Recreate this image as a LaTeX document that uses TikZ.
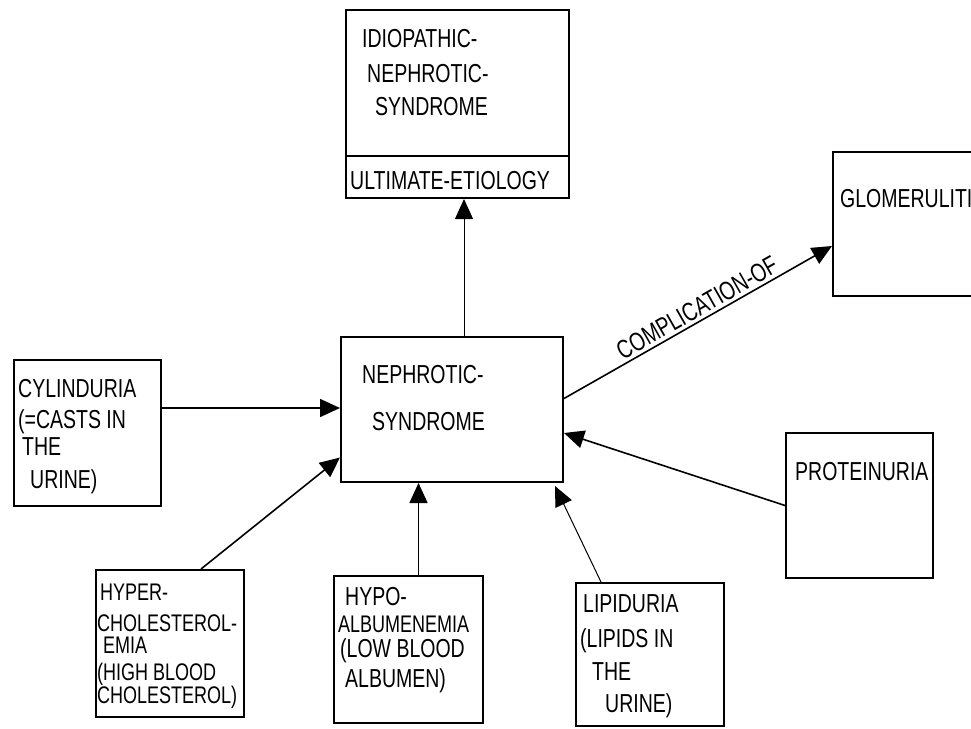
\documentclass[tikz,border=0pt]{standalone}
\usepackage{fontspec}
\newfontfamily\handfont[FakeStretch=0.75]{Liberation Sans}
\usetikzlibrary{arrows.meta}

\begin{document}
\begin{tikzpicture}[x=1pt, y=-1pt,
    box/.style={draw, line width=2pt, anchor=north west, inner sep=0pt},
    txt/.style={anchor=base west, inner sep=0pt, font=\handfont\fontsize{26}{30}\selectfont},
    smalltxt/.style={txt, font=\handfont\fontsize{24}{28}\selectfont},
    link/.style={line width=1.6pt, -{Triangle[length=20pt, width=18pt]}},
    thinlink/.style={line width=1pt, -{Triangle[length=20pt, width=18pt]}}]
  \clip (0,0) rectangle (971,728);

  % Upper boxes
  \node[box, minimum width=223pt, minimum height=146pt] (idio) at (345,9) {};
  \node[box, minimum width=223pt, minimum height=42pt] (etio) at (345,155) {};
  \node[box, minimum width=170pt, minimum height=144pt] (glom) at (832,151) {};
  \node[txt] (idio1) at ([shift={(17,38)}]idio.north west) {IDIOPATHIC-};
  \node[txt] (idio2) at ([shift={(22,73)}]idio.north west) {NEPHROTIC-};
  \node[txt] (idio3) at ([shift={(30,106)}]idio.north west) {SYNDROME};
  \node[txt] (etio1) at ([shift={(5,34)}]etio.north west) {ULTIMATE-ETIOLOGY};
  \node[txt] (glom1) at ([shift={(8,56)}]glom.north west) {GLOMERULITIS};

  % Central box
  \node[box, minimum width=222pt, minimum height=145pt] (neph) at (340,336) {};
  \node[txt] (neph1) at ([shift={(22,47)}]neph.north west) {NEPHROTIC-};
  \node[txt] (neph2) at ([shift={(32,94)}]neph.north west) {SYNDROME};

  % Left and right boxes
  \node[box, minimum width=147pt, minimum height=146pt] (cyl) at (13,359) {};
  \node[txt] (cyl1) at ([shift={(5,38)}]cyl.north west) {CYLINDURIA};
  \node[txt] (cyl2) at ([shift={(5,69)}]cyl.north west) {(=CASTS IN};
  \node[txt] (cyl3) at ([shift={(9,96)}]cyl.north west) {THE};
  \node[txt] (cyl4) at ([shift={(17,129)}]cyl.north west) {URINE)};

  \node[box, minimum width=147pt, minimum height=145pt] (prot) at (785,432) {};
  \node[txt] (prot1) at ([shift={(10,48)}]prot.north west) {PROTEINURIA};

  % Lower boxes
  \node[box, minimum width=148pt, minimum height=147pt] (hyper) at (95,569) {};
  \node[smalltxt] (hyper1) at ([shift={(5,31)}]hyper.north west) {HYPER-};
  \node[smalltxt] (hyper2) at ([shift={(2,62)}]hyper.north west) {CHOLESTEROL-};
  \node[smalltxt] (hyper3) at ([shift={(8,84)}]hyper.north west) {EMIA};
  \node[smalltxt] (hyper4) at ([shift={(2,111)}]hyper.north west) {(HIGH BLOOD};
  \node[smalltxt] (hyper5) at ([shift={(2,134)}]hyper.north west) {CHOLESTEROL)};

  \node[box, minimum width=149pt, minimum height=147pt] (hypo) at (333,575) {};
  \node[txt] (hypo1) at ([shift={(12,30)}]hypo.north west) {HYPO-};
  \node[smalltxt] (hypo2) at ([shift={(5,57)}]hypo.north west) {ALBUMENEMIA};
  \node[txt] (hypo3) at ([shift={(7,82)}]hypo.north west) {(LOW BLOOD};
  \node[txt] (hypo4) at ([shift={(12,112)}]hypo.north west) {ALBUMEN)};

  \node[box, minimum width=148pt, minimum height=143pt] (lip) at (575,582) {};
  \node[txt] (lip1) at ([shift={(8,30)}]lip.north west) {LIPIDURIA};
  \node[txt] (lip2) at ([shift={(5,65)}]lip.north west) {(LIPIDS IN};
  \node[txt] (lip3) at ([shift={(17,98)}]lip.north west) {THE};
  \node[txt] (lip4) at ([shift={(30,130)}]lip.north west) {URINE)};

  % Connectors
  \draw[thinlink] ([xshift=12pt]neph.north) -- ([xshift=12pt]neph.north |- etio.south);
  \draw[link] ([yshift=11pt]neph.east) -- ([yshift=-22pt]glom.west)
    node[pos=0.52, above=3pt, sloped, txt, anchor=south] (compl) {COMPLICATION-OF};
  \draw[link] ([yshift=25pt]cyl.east) -- ([yshift=25pt]cyl.east -| neph.west);
  \draw[link] ([xshift=31pt]hyper.north) -- ([yshift=-48pt]neph.west);
  \draw[link] ([xshift=10pt]hypo.north) -- ([xshift=10pt]hypo.north |- neph.south);
  \draw[thinlink] ([xshift=-49pt]lip.north) -- ([xshift=-9pt, yshift=-3pt]neph.south east);
  \draw[link] (prot.west) -- ([yshift=-23.5pt]neph.east);
\end{tikzpicture}
\end{document}
